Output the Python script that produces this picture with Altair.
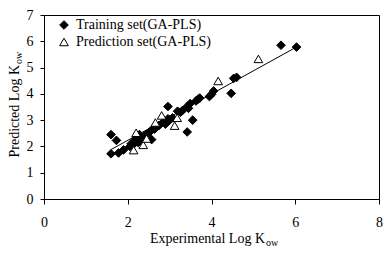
import altair as alt
import pandas as pd

# Training set (GA-PLS): experimental vs predicted log Kow
train_x = [1.60, 1.73, 1.60, 1.78, 1.90, 2.05, 2.10, 2.15, 2.20, 2.25, 2.30, 2.35, 2.40, 2.45,
           2.52, 2.57, 2.64, 2.57, 2.75, 2.84, 2.90, 2.96, 3.07, 3.00, 2.96, 3.19, 3.26, 3.31,
           3.42, 3.55, 3.45, 3.49, 3.63, 3.68, 3.72, 3.95, 4.00, 4.05, 4.47, 4.53, 4.60, 5.66, 6.03,
           2.08, 2.12, 2.28, 2.22, 3.42]
train_y = [2.45, 2.23, 1.72, 1.75, 1.87, 2.00, 2.08, 2.20, 2.30, 2.15, 2.35, 2.25, 2.40, 2.44,
           2.55, 2.62, 2.66, 2.26, 2.80, 2.91, 2.85, 3.05, 3.09, 3.00, 3.52, 3.34, 3.30, 3.37,
           2.55, 3.00, 3.45, 3.63, 3.73, 3.80, 3.84, 3.90, 3.98, 4.11, 4.02, 4.59, 4.63, 5.85, 5.78,
           2.10, 2.05, 2.45, 2.32, 3.52]

# Prediction set (GA-PLS)
pred_x = [2.14, 2.20, 2.37, 2.45, 2.66, 2.81, 3.12, 3.18, 4.16, 5.12]
pred_y = [1.86, 2.52, 2.06, 2.30, 2.91, 3.18, 2.79, 3.09, 4.49, 5.33]

# Fitted line end points
line_x = [1.60, 6.05]
line_y = [1.88, 5.80]

sets = ["Training set(GA-PLS)", "Prediction set(GA-PLS)"]

df = pd.DataFrame({
    "x": train_x + pred_x,
    "y": train_y + pred_y,
    "set": [sets[0]] * len(train_x) + [sets[1]] * len(pred_x),
})
line_df = pd.DataFrame({"x": line_x, "y": line_y})

FONT = "Liberation Serif"

xscale = alt.Scale(domain=[0, 8], nice=False, zero=False)
yscale = alt.Scale(domain=[0, 7], nice=False, zero=False)

xaxis = alt.Axis(values=[0, 2, 4, 6, 8], title=None, grid=False, tickSize=5,
                 labelPadding=11, labelOverlap=False, labelFlush=False,
                 labelFont=FONT, labelFontSize=14, labelColor="black",
                 domainColor="black", tickColor="black")
yaxis = alt.Axis(values=[0, 1, 2, 3, 4, 5, 6, 7], title=None, grid=False, tickSize=4,
                 labelPadding=7, labelOverlap=False, labelFlush=False,
                 labelFont=FONT, labelFontSize=14, labelColor="black",
                 domainColor="black", tickColor="black")

line = alt.Chart(line_df).mark_line(color="black", strokeWidth=1).encode(
    x=alt.X("x:Q", scale=xscale, axis=xaxis),
    y=alt.Y("y:Q", scale=yscale, axis=yaxis),
)

leg = alt.Legend(title=None, orient="none", legendX=13, legendY=3,
                 labelFont=FONT, labelFontSize=14, labelColor="black",
                 symbolStrokeWidth=1, symbolSize=75, rowPadding=3, labelOffset=5, padding=0)

points = alt.Chart(df).mark_point(filled=False, size=75, strokeWidth=1, opacity=1).encode(
    x=alt.X("x:Q", scale=xscale, axis=xaxis),
    y=alt.Y("y:Q", scale=yscale, axis=yaxis),
    shape=alt.Shape("set:N", scale=alt.Scale(domain=sets, range=["diamond", "triangle-up"]),
                    legend=leg),
    fill=alt.Fill("set:N", scale=alt.Scale(domain=sets, range=["black", "white"]), legend=leg),
    stroke=alt.Stroke("set:N", scale=alt.Scale(domain=sets, range=["black", "black"]), legend=leg),
)

xt_main = alt.Chart(pd.DataFrame({"t": ["Experimental Log K"]})).mark_text(
    font=FONT, fontSize=14, align="right", baseline="alphabetic", color="black"
).encode(text="t:N", x=alt.value(221), y=alt.value(228))
xt_sub = alt.Chart(pd.DataFrame({"t": ["ow"]})).mark_text(
    font=FONT, fontSize=10, align="left", baseline="alphabetic", color="black"
).encode(text="t:N", x=alt.value(222), y=alt.value(231))

yt_main = alt.Chart(pd.DataFrame({"t": ["Predicted Log K"]})).mark_text(
    font=FONT, fontSize=14, align="right", baseline="alphabetic", angle=270, color="black"
).encode(text="t:N", x=alt.value(-25), y=alt.value(50))
yt_sub = alt.Chart(pd.DataFrame({"t": ["ow"]})).mark_text(
    font=FONT, fontSize=10, align="left", baseline="alphabetic", angle=270, color="black"
).encode(text="t:N", x=alt.value(-22), y=alt.value(49))

chart = alt.layer(line, points, xt_main, xt_sub, yt_main, yt_sub).properties(
    width=335, height=184,
    background="white",
    autosize=alt.AutoSizeParams(type="none"),
    padding={"left": 36, "top": 7, "right": 5, "bottom": 48},
).configure_view(stroke="black", strokeWidth=1).configure_axis(
    labelFont=FONT, labelFontSize=14, labelColor="black",
    domainColor="black", tickColor="black", domainWidth=1, tickWidth=1
)

chart.save("out.html", embed_options={"renderer": "svg", "actions": False})
